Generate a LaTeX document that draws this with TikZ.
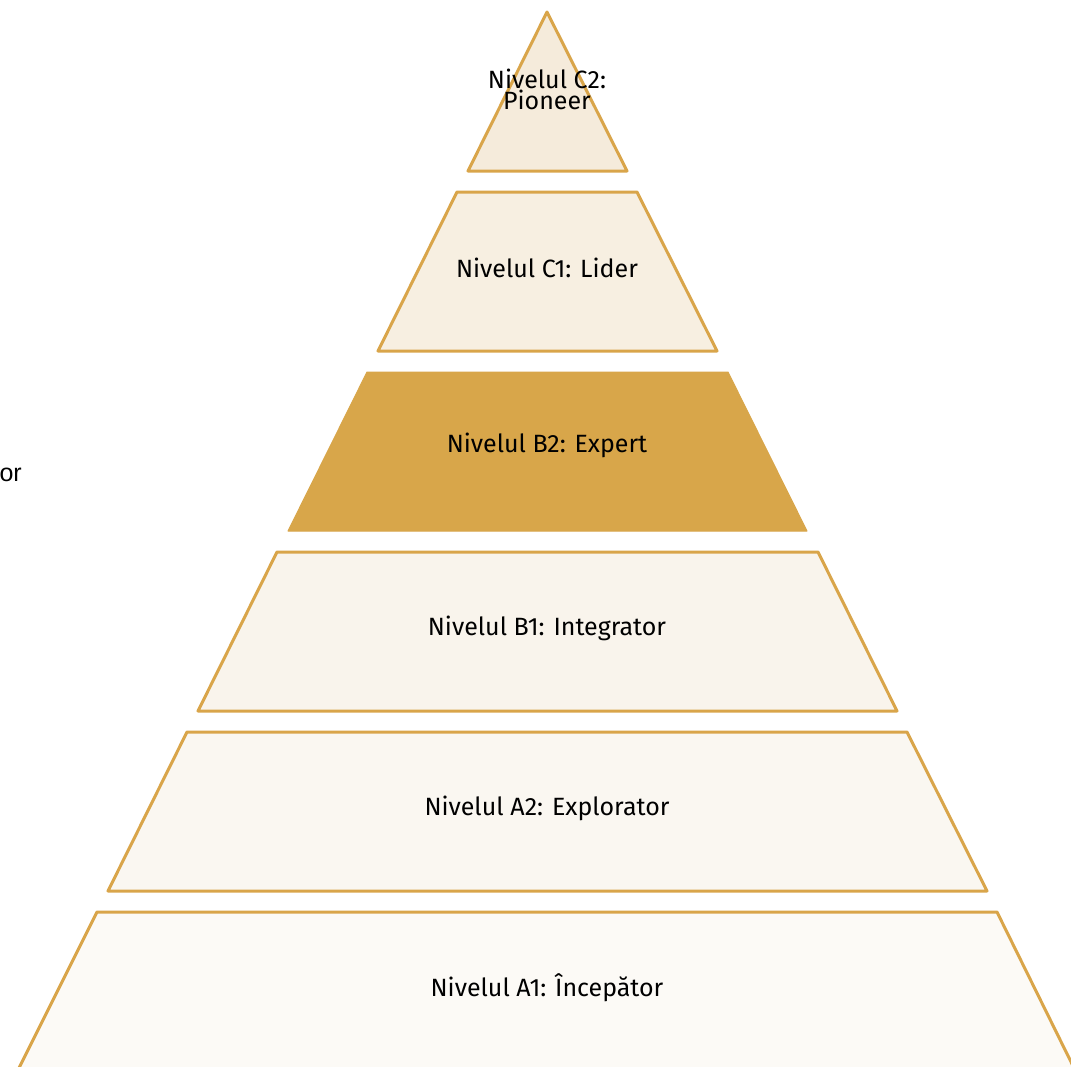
\documentclass[tikz,border=0pt]{standalone}
\usepackage{fontspec}
\setmainfont{Fira Sans}
\newfontfamily\arialfont{Liberation Sans}
\definecolor{edge}{HTML}{D9A54A}
\definecolor{fCtwo}{HTML}{F5EBDB}
\definecolor{fCone}{HTML}{F7EFE1}
\definecolor{fBtwo}{HTML}{D8A64A}
\definecolor{fBone}{HTML}{F9F4EC}
\definecolor{fAtwo}{HTML}{FAF7F1}
\definecolor{fAone}{HTML}{FCFAF6}
\tikzset{
  level/.style={draw=edge, line width=3pt, line join=round},
  lbl/.style={font=\fontsize{25}{21}\selectfont, text=black, inner sep=0pt, align=center},
}
\begin{document}
\begin{tikzpicture}[x=1pt,y=-1pt]
\useasboundingbox (0,0) rectangle (1071,1066);
\fill[white] (0,0) rectangle (1071,1066);
% C2
\path[level, fill=fCtwo] (547,12) -- (627,171) -- (468,171) -- cycle;
% C1
\path[level, fill=fCone] (457,192) -- (637,192) -- (717,351) -- (378,351) -- cycle;
% B2
\path[draw=fBtwo, line width=1pt, line join=round, fill=fBtwo] (367,372) -- (728,372) -- (807,531) -- (288,531) -- cycle;
% B1
\path[level, fill=fBone] (277,552) -- (818,552) -- (897,711) -- (198,711) -- cycle;
% A2
\path[level, fill=fAtwo] (187,732) -- (907,732) -- (987,891) -- (108,891) -- cycle;
% A1 (cut off by the lower edge)
\begin{scope}
\clip (0,0) rectangle (1071,1066);
\fill[fAone] (97,912) -- (997,912) -- (1075,1070) -- (18,1070) -- cycle;
\draw[level] (18,1070) -- (97,912) -- (997,912) -- (1075,1070);
\end{scope}
% labels
\node[lbl] (c2) at (547,89) {Nivelul C2:\\Pioneer};
\node[lbl] (c1) at (547,268) {Nivelul C1: Lider};
\node[lbl] (b2) at (547,445) {Nivelul B2: Expert};
\node[lbl] (b1) at (547,628) {Nivelul B1: Integrator};
\node[lbl] (a2) at (547,808) {Nivelul A2: Explorator};
\node[lbl] (a1) at (547,988) {Nivelul A1: Începător};
\node[font=\arialfont\fontsize{25}{25}\selectfont, inner sep=0pt, anchor=base east] (side) at (22,481) {or};
\end{tikzpicture}
\end{document}
